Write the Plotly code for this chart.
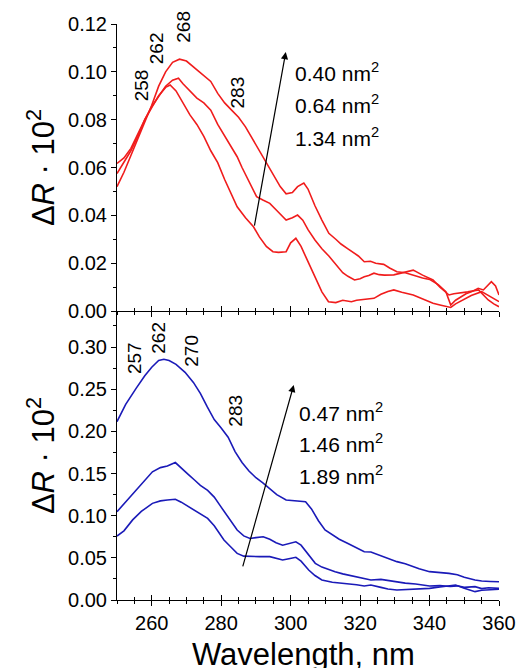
import plotly.graph_objects as go

# ---------------- data ----------------
# upper panel (red)
wl_red1 = [250,252,254,256,258,260,262,264,266,268,270,272,274,277,279,281,283,285,287,289,
           291,293,295,297,298.7,300.5,302,303.8,305,307,309,311,313,314.5,316.5,318,319.5,321.2,323,324.5,
           326.8,328.5,330.6,333,336,338,340,342.5,344.7,346.1,347.5,349,350.5,352.2,354,355.5,357,357.8,359,360]
dr_red1 = [0.052,0.058,0.065,0.072,0.079,0.086,0.094,0.100,0.104,0.1053,0.1045,0.102,0.0995,0.096,0.091,0.087,0.084,0.081,0.077,0.072,
           0.067,0.062,0.057,0.052,0.049,0.0495,0.052,0.0535,0.051,0.044,0.038,0.0325,0.030,0.028,0.026,0.0245,0.023,0.0206,0.0208,0.020,
           0.0195,0.018,0.0164,0.016,0.0145,0.0138,0.0132,0.011,0.0081,0.0025,0.0045,0.006,0.0072,0.0081,0.0095,0.0088,0.011,0.0123,0.0105,0.0067]

wl_red2 = [250,252,254,256,258,260,262,264,266,267.7,269,271,273,275,277,279,281,283,284.6,286,
           288,290.2,292,294,296,298.7,300.5,302,303.5,305,307,309,311,312.8,315,316.5,318.4,320,321.2,322.5,
           324,325.5,327,329.7,332,335.3,338,341,343,345.6,347,348.5,351,354.1,355.5,356.9,358.5,360]
dr_red2 = [0.0575,0.062,0.067,0.073,0.080,0.0855,0.090,0.094,0.0965,0.0973,0.095,0.092,0.089,0.087,0.084,0.078,0.073,0.068,0.0645,0.060,
           0.054,0.0478,0.0464,0.045,0.042,0.038,0.039,0.0401,0.038,0.034,0.0297,0.026,0.023,0.020,0.016,0.0145,0.013,0.0135,0.0143,0.0148,
           0.0158,0.0152,0.015,0.0151,0.016,0.0171,0.015,0.013,0.010,0.0067,0.0072,0.0074,0.008,0.0088,0.0065,0.0046,0.003,0.0018]

wl_red3 = [250,252,254,256,258,260,262,264,265.3,267,269,271,273,275,277,279,281,283,284.6,287,
           289.3,291,293,294.9,296.5,298.7,300,301.5,303,305.2,307,309,310.9,313,315,317.5,319,321.2,324,326,
           328,329.7,332,335.3,338,341,343,346.1,347.5,349.4,352,355,357.5,360]
dr_red3 = [0.0617,0.064,0.068,0.074,0.080,0.085,0.090,0.0935,0.0945,0.092,0.087,0.082,0.078,0.073,0.067,0.062,0.055,0.049,0.0436,0.039,
           0.0352,0.031,0.027,0.0248,0.0245,0.0248,0.0285,0.0304,0.027,0.020,0.014,0.008,0.0039,0.0035,0.0045,0.0039,0.0045,0.0049,0.0053,0.007,
           0.0082,0.0088,0.0078,0.0067,0.005,0.0032,0.0025,0.0015,0.003,0.0046,0.0065,0.0081,0.006,0.0039]

# lower panel (blue)
wl_blue1 = [250,252.5,255.5,258,260,262,263.5,265,267,269.6,272,274,276,278,280,282,284,286,288,290,
            292,294,296,298.7,300.5,302,304.3,306,308,309.9,312,314,316.5,319,321.2,323.1,325,327.5,330.6,333,
            335,337,340,342.5,345.6,348,350,353.1,355,357.5,360]
dr_blue1 = [0.2115,0.232,0.251,0.266,0.276,0.284,0.2855,0.284,0.2795,0.270,0.258,0.245,0.229,0.214,0.204,0.193,0.176,0.163,0.153,0.145,
            0.139,0.132,0.125,0.1186,0.1178,0.1172,0.1166,0.108,0.094,0.083,0.077,0.072,0.067,0.062,0.0573,0.057,0.054,0.050,0.0455,0.043,
            0.040,0.037,0.0336,0.0328,0.0316,0.030,0.027,0.0237,0.0225,0.022,0.0217]

wl_blue2 = [250,252,254.5,257,260.2,262.5,264.5,266.8,268.5,270.5,272.4,274,276.1,278,279.9,282,284.6,286.5,288.3,290,
            292.1,294,295.8,297.7,299.5,301.5,303,305,307.1,309,310.8,312.8,315,318.4,321.2,323.1,326,328,330.6,333,
            336,340,343,346,348,350,353.1,355,357,360]
dr_blue2 = [0.1047,0.114,0.1265,0.138,0.152,0.157,0.159,0.163,0.157,0.149,0.142,0.136,0.130,0.122,0.1107,0.098,0.083,0.076,0.073,0.074,
            0.075,0.072,0.068,0.065,0.067,0.069,0.065,0.054,0.0435,0.039,0.036,0.0336,0.031,0.0277,0.0257,0.0237,0.0245,0.023,0.0217,0.020,
            0.019,0.0166,0.017,0.016,0.0168,0.015,0.0158,0.0135,0.0145,0.0138]

wl_blue3 = [250,252,254.5,257,260.2,262.5,264.5,266.8,268.5,270.5,272.4,274,276.1,278,280.8,283,284.6,286.5,288.3,291,
            294,296,297.7,299.5,301.5,303,305.2,307,309,312,315.6,319,321.2,323.1,326,328,330.6,333,336,340,
            343,345,347.5,350,353.1,355,357,360]
dr_blue3 = [0.0759,0.082,0.095,0.105,0.1146,0.1175,0.1185,0.1194,0.116,0.111,0.1067,0.102,0.0968,0.088,0.0711,0.062,0.0553,0.052,0.0514,0.0514,
            0.0514,0.049,0.0474,0.049,0.0506,0.046,0.0356,0.029,0.0237,0.021,0.0198,0.018,0.0166,0.0178,0.015,0.013,0.0119,0.0125,0.013,0.0138,
            0.0155,0.0165,0.0178,0.014,0.0099,0.0115,0.012,0.0127]

# peak-position labels (wavelength, label position value)
peak_top_labels = ["258", "262", "268", "283"]
peak_top_x = [257.3, 261.6, 269.1, 284.8]
peak_top_y = [0.0945, 0.110, 0.119, 0.0913]
peak_bot_labels = ["257", "262", "270", "283"]
peak_bot_x = [255.2, 262.1, 271.4, 284.1]
peak_bot_y = [0.287, 0.311, 0.296, 0.225]

area_top = ["0.40", "0.64", "1.34"]
area_top_y = [0.0999, 0.0865, 0.0727]
area_bot = ["0.47", "1.46", "1.89"]
area_bot_y = [0.223, 0.186, 0.148]

XRANGE = [250, 360]
YTOP_RANGE = [0, 0.12]
YBOT_RANGE = [0, 0.3427]

RED = "#f01c1c"
BLUE = "#1a1ab8"
FONT = "Liberation Sans, Arial, sans-serif"

fig = go.Figure()
for wl, dr in [(wl_red1, dr_red1), (wl_red2, dr_red2), (wl_red3, dr_red3)]:
    fig.add_trace(go.Scatter(x=wl, y=dr, mode="lines", line=dict(color=RED, width=1.6),
                             xaxis="x2", yaxis="y", showlegend=False, hoverinfo="skip"))
for wl, dr in [(wl_blue1, dr_blue1), (wl_blue2, dr_blue2), (wl_blue3, dr_blue3)]:
    fig.add_trace(go.Scatter(x=wl, y=dr, mode="lines", line=dict(color=BLUE, width=1.6),
                             xaxis="x", yaxis="y2", showlegend=False, hoverinfo="skip"))
# dummy traces so the overlay tick axes are drawn
fig.add_trace(go.Scatter(x=[None], y=[None], xaxis="x3", yaxis="y2", showlegend=False, hoverinfo="skip"))
fig.add_trace(go.Scatter(x=[None], y=[None], xaxis="x4", yaxis="y", showlegend=False, hoverinfo="skip"))

split = (600 - 311) / 576.0

common_x = dict(range=XRANGE, tick0=260, dtick=20, showgrid=False, zeroline=False,
                tickcolor="black", tickwidth=1, ticklen=5)
minor_out = dict(dtick=5, tick0=250, ticks="outside", ticklen=3, tickcolor="black", tickwidth=1, showgrid=False)
minor_in = dict(dtick=5, tick0=250, ticks="inside", ticklen=3, tickcolor="black", tickwidth=1, showgrid=False)

fig.update_layout(
    width=528, height=668,
    margin=dict(l=117, r=20, t=24, b=68),
    paper_bgcolor="white", plot_bgcolor="white",
    font=dict(family=FONT, color="black", size=20),
    xaxis=dict(**common_x, domain=[0, 1], anchor="y2", ticks="outside", showline=True,
               linecolor="black", linewidth=1, minor=minor_out,
               tickfont=dict(size=20, family=FONT, color="black")),
    xaxis3=dict(**common_x, overlaying="x", anchor="y2", ticks="inside", showline=False,
                showticklabels=False, minor=minor_in),
    xaxis2=dict(**common_x, domain=[0, 1], anchor="y", ticks="outside", showline=True,
                linecolor="black", linewidth=1, showticklabels=False, minor=minor_out),
    xaxis4=dict(**common_x, overlaying="x2", anchor="y", ticks="inside", showline=False,
                showticklabels=False, minor=minor_in),
    yaxis=dict(domain=[split, 1], anchor="x2", range=YTOP_RANGE, dtick=0.02, tick0=0,
               tickformat=".2f", ticks="outside", ticklen=5, tickcolor="black",
               showline=True, linecolor="black", linewidth=1, showgrid=False, zeroline=False,
               minor=dict(dtick=0.01, ticks="outside", ticklen=3, tickcolor="black", showgrid=False),
               tickfont=dict(size=20, family=FONT, color="black")),
    yaxis2=dict(domain=[0, split], anchor="x", range=YBOT_RANGE, dtick=0.05, tick0=0,
                tickformat=".2f", ticks="outside", ticklen=5, tickcolor="black",
                showline=True, linecolor="black", linewidth=1, showgrid=False, zeroline=False,
                minor=dict(dtick=0.025, ticks="outside", ticklen=3, tickcolor="black", showgrid=False),
                tickfont=dict(size=20, family=FONT, color="black")),
)

ann = []
# peak labels
for t, x, y in zip(peak_top_labels, peak_top_x, peak_top_y):
    ann.append(dict(text=t, x=x, y=y, xref="x2", yref="y", showarrow=False, textangle=-90,
                    xanchor="center", yanchor="middle", font=dict(size=19, family=FONT, color="black")))
for t, x, y in zip(peak_bot_labels, peak_bot_x, peak_bot_y):
    ann.append(dict(text=t, x=x, y=y, xref="x", yref="y2", showarrow=False, textangle=-90,
                    xanchor="center", yanchor="middle", font=dict(size=19, family=FONT, color="black")))
# area labels
for t, y in zip(area_top, area_top_y):
    ann.append(dict(text=t + " nm<sup>2</sup>", x=300.8, y=y, xref="x2", yref="y", showarrow=False,
                    xanchor="left", yanchor="middle", font=dict(size=21, family=FONT, color="black")))
for t, y in zip(area_bot, area_bot_y):
    ann.append(dict(text=t + " nm<sup>2</sup>", x=301.7, y=y, xref="x", yref="y2", showarrow=False,
                    xanchor="left", yanchor="middle", font=dict(size=21, family=FONT, color="black")))
# arrows
ann.append(dict(text="", x=298.6, y=0.1083, ax=289.5, ay=0.0351, xref="x2", yref="y",
                axref="x2", ayref="y", showarrow=True, arrowhead=2, arrowsize=1.2, arrowwidth=1.2,
                arrowcolor="black"))
ann.append(dict(text="", x=300.9, y=0.255, ax=286.1, ay=0.038, xref="x", yref="y2",
                axref="x", ayref="y2", showarrow=True, arrowhead=2, arrowsize=1.2, arrowwidth=1.2,
                arrowcolor="black"))
# axis titles
ytitle = "\u0394<i>R</i> \u00b7 10<sup>2</sup>"
ann.append(dict(text=ytitle, x=-0.2, y=(split + 1) / 2, xref="paper", yref="paper", showarrow=False,
                textangle=-90, xanchor="center", yanchor="middle",
                font=dict(size=31, family=FONT, color="black")))
ann.append(dict(text=ytitle, x=-0.2, y=split / 2, xref="paper", yref="paper", showarrow=False,
                textangle=-90, xanchor="center", yanchor="middle",
                font=dict(size=31, family=FONT, color="black")))
ann.append(dict(text="Wavelength, nm", x=0.489, y=-0.094, xref="paper", yref="paper", showarrow=False,
                xanchor="center", yanchor="middle", font=dict(size=31, family=FONT, color="black")))
fig.update_layout(annotations=ann)

fig.write_html("out.html",
               config={"displayModeBar": False},
               post_script="document.body.style.margin='0';document.body.style.padding='0';"
                           "document.documentElement.style.overflow='hidden';")
